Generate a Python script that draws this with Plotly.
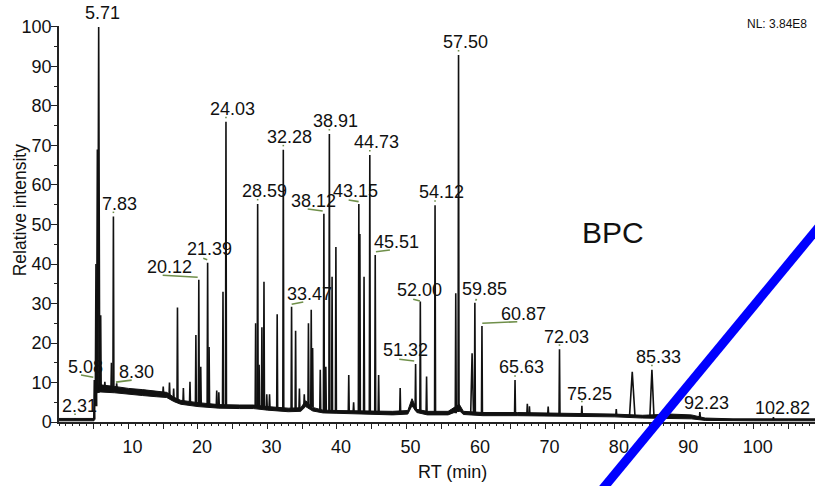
import plotly.graph_objects as go

# ---------------- data ----------------
# baseline noise envelope (RT in min, relative intensity)
base_rt = [0, 5.05, 5.2, 6.0, 8, 10, 12, 14, 15.5, 16.5, 17.5, 20, 23, 26, 28, 30, 33,
           34.8, 35.5, 36.5, 38, 40, 44, 48, 50.2, 50.8, 51.5, 53, 56, 57.6, 58.2, 61,
           66, 70, 75, 80, 84, 86, 88, 91, 93, 97, 100, 105, 108.8]
base_lo = [0.3, 0.3, 7.3, 7.6, 7.4, 7.0, 6.7, 6.4, 6.2, 5.2, 4.5, 3.9, 3.5, 3.4, 3.4, 3.0, 2.6,
           2.7, 3.9, 2.8, 2.3, 2.2, 2.0, 1.8, 2.0, 4.1, 2.4, 1.8, 1.8, 2.9, 1.9, 1.6,
           1.6, 1.5, 1.4, 1.3, 1.0, 0.9, 0.9, 0.8, 0.4, 0.3, 0.3, 0.3, 0.3]
base_hi = [0.9, 0.9, 9.2, 9.4, 9.0, 8.5, 8.2, 7.8, 7.5, 6.3, 5.5, 4.9, 4.4, 4.3, 4.3, 3.9, 3.5,
           3.6, 5.4, 3.7, 3.0, 2.9, 2.8, 2.7, 2.9, 5.9, 3.2, 2.7, 2.7, 4.5, 2.7, 2.4,
           2.4, 2.3, 2.2, 2.0, 1.7, 1.9, 2.0, 1.8, 1.0, 0.8, 0.8, 0.8, 0.8]

# peaks: retention time, apex height, foot level
peak_rt = [2.31, 5.08, 5.32, 5.52, 5.71, 6.0, 6.6, 7.55, 7.83, 8.30,
           15.0, 15.9, 16.5, 17.05, 17.9, 18.85, 19.7, 20.12, 20.4, 21.39,
           21.6, 22.7, 23.0, 23.6, 24.03, 28.3, 28.59, 28.8, 29.2, 29.5,
           29.9, 30.3, 31.4, 32.28, 33.47, 34.05, 34.6, 35.3, 35.9, 36.3,
           36.5, 37.6, 38.12, 38.4, 38.91, 39.3, 39.85, 41.7, 42.4, 43.15,
           43.3, 43.9, 44.73, 45.51, 46.0, 49.1, 51.32, 52.00, 52.9, 54.12,
           57.1, 57.50, 59.45, 59.85, 60.87, 65.63, 67.4, 67.7, 70.4, 72.03,
           75.25, 80.2, 82.5, 85.33, 92.23, 102.82]
peak_height = [0.9, 10.6, 40, 69, 100, 27, 10.2, 15, 52, 9.8,
               9.0, 10.0, 8.5, 29, 8.6, 10.2, 22, 36, 14, 40.3,
               19, 8, 7.5, 33, 76, 25, 55.2, 14.5, 24, 35.5,
               7, 7, 27.3, 68.9, 29.2, 23.1, 8.5, 7, 25, 28.4,
               18.7, 13.2, 52.7, 14, 72.9, 36.8, 44.3, 11.9, 5, 55.2,
               47.6, 36.8, 67.6, 42.3, 11.9, 8.6, 14.7, 30.5, 11.5, 54.9,
               32.6, 92.9, 17.4, 30.2, 24.3, 10.6, 4.6, 4.0, 3.9, 18.4,
               4.1, 3.3, 12.7, 13.2, 2.5, 1.2]
peak_base = [0.5, 0.6, 4, 8, 8, 8, 8.3, 8.3, 8.3, 8.2,
             7, 6.5, 5.5, 5, 4.6, 4.4, 4.3, 4.3, 4.3, 4.2,
             4.2, 4, 4, 4, 4, 3.8, 3.8, 3.8, 3.7, 3.6,
             3.5, 3.4, 3.2, 3.1, 3, 3, 3, 4, 4.5, 4,
             3.8, 2.8, 2.6, 2.6, 2.5, 2.5, 2.5, 2.4, 2.4, 2.4,
             2.4, 2.4, 2.4, 2.3, 2.3, 2.2, 3, 2.5, 2.2, 2.2,
             2.2, 2.5, 2.2, 2, 2, 1.9, 1.9, 1.9, 1.8, 1.8,
             1.7, 1.6, 1.3, 1.2, 1.2, 0.5]

# labelled peaks
label_rt = ["2.31", "5.08", "5.71", "7.83", "8.30", "20.12", "21.39", "24.03", "28.59",
            "32.28", "33.47", "38.12", "38.91", "43.15", "44.73", "45.51", "51.32",
            "52.00", "54.12", "57.50", "59.85", "60.87", "65.63", "72.03", "75.25",
            "85.33", "92.23", "102.82"]

# ---------------- styles ----------------
FONT = "Liberation Sans, Arial, sans-serif"
INK = "#111111"
LEADER = "#6f8f4a"
default_hw = 0.07
halfwidth = {5.32: 0.1, 5.52: 0.12, 5.71: 0.15, 59.45: 0.2, 82.5: 0.4, 85.33: 0.3}
default_off = (6.5, -12.7)  # label centre offset from apex, screen px
label_off = {"2.31": (4.7, -12), "5.08": (-8.5, -13.4), "5.71": (4, -13.5),
             "8.30": (20.3, -11.5), "20.12": (-29.3, -12.8), "21.39": (2.3, -13.8),
             "33.47": (18.2, -13), "38.12": (-10.6, -13.1), "43.15": (-3.1, -12.7),
             "45.51": (21.4, -13.2), "51.32": (-10.2, -13.6), "52.00": (-0.4, -11.5),
             "59.85": (9.5, -13.4), "60.87": (41.8, -12), "92.23": (6.7, -9.5),
             "102.82": (8.6, -9.5), "75.25": (7.2, -11.5)}
leader = {"5.08": (-13.3, -5.1, -1, -2.8), "8.30": (-0.7, -1.2, 15, -3.2),
          "20.12": (-36.1, -4.5, -1.1, -2.5), "21.39": (-4.4, -4.5, -0.4, -3.1),
          "33.47": (0.1, -2.4, 11.7, -4.7), "38.12": (-16.2, -4.8, -1.2, -2.8),
          "43.15": (-10.2, -4, -0.2, -2.3), "45.51": (0.7, -3.2, 14.7, -4.9),
          "51.32": (-16.4, -4.6, -1.4, -2.9), "52.00": (-7.1, -2.2, -0.4, -0.5),
          "59.85": (1.7, -3.7, 0.7, -2), "60.87": (0.3, -2.7, 35.3, -4.3)}
default_leader = (0, -3.5, 0, -5)

# ---------------- build figure ----------------
fig = go.Figure()

# baseline band
fig.add_trace(go.Scatter(x=base_rt, y=base_lo, mode="lines",
                         line=dict(color=INK, width=1), hoverinfo="skip", showlegend=False))
fig.add_trace(go.Scatter(x=base_rt, y=base_hi, mode="lines", fill="tonexty",
                         fillcolor=INK, line=dict(color=INK, width=1),
                         hoverinfo="skip", showlegend=False))

# peaks
px_, py_ = [], []
for rt, h, b in zip(peak_rt, peak_height, peak_base):
    w = halfwidth.get(rt, default_hw)
    px_ += [rt - w, rt, rt + w, None]
    py_ += [b, h, b, None]
fig.add_trace(go.Scatter(x=px_, y=py_, mode="lines",
                         line=dict(color=INK, width=1.6), hoverinfo="skip",
                         showlegend=False))

annotations = []
shapes = []
for lab in label_rt:
    rt = float(lab)
    h = peak_height[peak_rt.index(rt)]
    dx, dy = label_off.get(lab, default_off)
    annotations.append(dict(x=rt, y=h, xref="x", yref="y", text=lab, showarrow=False,
                            xshift=dx, yshift=-dy, xanchor="center", yanchor="middle",
                            font=dict(family=FONT, size=18, color=INK)))
    x0, y0, x1, y1 = leader.get(lab, default_leader)
    shapes.append(dict(type="line", xref="x", yref="y", xsizemode="pixel",
                       ysizemode="pixel", xanchor=rt, yanchor=h,
                       x0=x0, x1=x1, y0=-y0, y1=-y1,
                       line=dict(color=LEADER, width=1.6)))

# titles and labels
annotations += [
    dict(x=-0.0516, y=0.537, xref="paper", yref="paper", text="Relative intensity",
         textangle=-90, showarrow=False, xanchor="center", yanchor="middle",
         font=dict(family=FONT, size=17.5, color=INK)),
    dict(x=0.5205, y=-0.1258, xref="paper", yref="paper", text="RT (min)",
         showarrow=False, xanchor="center", yanchor="middle",
         font=dict(family=FONT, size=18, color=INK)),
    dict(x=0.9925, y=1.0063, xref="paper", yref="paper", text="NL: 3.84E8",
         showarrow=False, xanchor="right", yanchor="middle",
         font=dict(family=FONT, size=12, color=INK)),
    dict(x=0.7332, y=0.4797, xref="paper", yref="paper", text="BPC",
         showarrow=False, xanchor="center", yanchor="middle",
         font=dict(family=FONT, size=30, color=INK)),
]

# blue diagonal stroke
shapes.append(dict(type="line", xref="paper", yref="paper",
                   x0=0.7156, y0=-0.177, x1=1.0131, y1=0.5114,
                   line=dict(color="#0000ff", width=9)))

xt = list(range(5, 110, 5))
fig.update_layout(
    width=815, height=486,
    margin=dict(l=59, r=0, t=26, b=64),
    paper_bgcolor="white", plot_bgcolor="white",
    font=dict(family=FONT, size=18, color=INK),
    annotations=annotations, shapes=shapes,
    xaxis=dict(range=[0, 108.8], showgrid=False, zeroline=False,
               showline=True, linecolor="#222", linewidth=1.5,
               tickmode="array", tickvals=xt,
               ticktext=[str(v) if v % 10 == 0 else "" for v in xt],
               ticks="outside", ticklen=5, tickwidth=1.2, tickcolor="#222",
               ticklabelshift=4, ticklabelstandoff=3,
               tickfont=dict(family=FONT, size=18, color=INK),
               minor=dict(dtick=1, tick0=0, ticks="outside", ticklen=2.5,
                          tickwidth=1, tickcolor="#222", showgrid=False)),
    yaxis=dict(range=[0, 100.25], showgrid=False, zeroline=False,
               showline=True, linecolor="#222", linewidth=1.5,
               tickmode="array", tickvals=list(range(0, 101, 10)),
               ticks="outside", ticklen=6, tickwidth=1.2, tickcolor="#222",
               ticklabelstandoff=-4,
               tickfont=dict(family=FONT, size=18, color=INK),
               minor=dict(dtick=5, tick0=0, ticks="outside", ticklen=3.5,
                          tickwidth=1, tickcolor="#222", showgrid=False)),
)

# remove the browser's default 8 px page margin so the figure fills the window
fig.write_html("out.html",
               config={"displayModeBar": False},
               post_script="document.body.style.margin='0';document.body.style.overflow='hidden';")
